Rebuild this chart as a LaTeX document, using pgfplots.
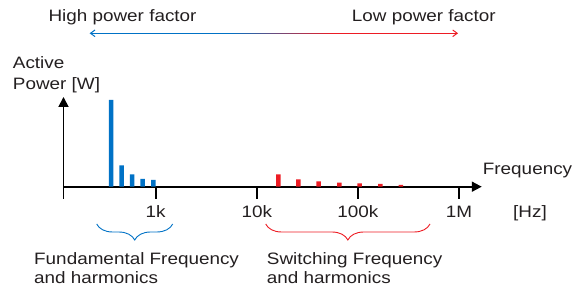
\documentclass[border=0pt]{standalone}
\usepackage{fontspec}
\setmainfont{Liberation Sans}[FakeStretch=1.145]
\usepackage{pgfplots}
\pgfplotsset{compat=1.18}
\usetikzlibrary{arrows.meta,decorations.pathreplacing}
\definecolor{bblue}{RGB}{0,114,198}
\definecolor{rred}{RGB}{237,28,36}
\definecolor{txt}{RGB}{35,31,32}
\begin{document}
\fontsize{16.5}{18.3}\selectfont
\begin{tikzpicture}[x=1pt,y=1pt]
\useasboundingbox (0,0) rectangle (581,291);
\begin{axis}[
  at={(63.5pt,104.3pt)}, anchor=south west,
  x=101.1pt, y=1pt,
  xmin=2.088, xmax=6.225, ymin=0, ymax=89.7,
  enlargelimits=false, clip=false,
  axis lines=left,
  axis line style={line width=1.8pt, -{Triangle[width=10pt,length=10pt]}},
  xtick={2.088,3,4,5,6}, xticklabels={,1k,10k,100k,1M},
  ytick=\empty,
  tick align=outside,
  major tick length=12pt,
  every tick/.style={black, line width=1.7pt},
  xticklabel style={anchor=base, text=txt, inner sep=0pt, yshift=-19pt},
]
\addplot[ybar, bar shift=0pt, bar width=4.5pt, fill=bblue, draw=none]
  coordinates {(2.558,86.7) (2.664,21.4) (2.766,12.4) (2.871,7.7) (2.976,6.7)};
\addplot[ybar, bar shift=0pt, bar width=4.5pt, fill=rred, draw=none]
  coordinates {(4.213,12.4) (4.410,7.4) (4.612,5.4) (4.816,4.0) (5.018,3.4) (5.222,2.7) (5.426,1.7)};
\end{axis}
\begin{scope}[every node/.style={inner sep=0pt, text=txt}]
\node[anchor=base west] at (48.3,269.3) {High power factor};
\node[anchor=base west] at (351.7,269.3) {Low power factor};
\node[anchor=base west] at (12.7,222.7) {Active};
\node[anchor=base west] at (12.7,201) {Power [W]};
\node[anchor=base west] at (482.7,116) {Frequency};
\node[anchor=base] at (530,73.7) {[Hz]};
\node[anchor=base west] at (34,26) {Fundamental Frequency};
\node[anchor=base west] at (34,7.7) {and harmonics};
\node[anchor=base west] at (266.7,26) {Switching Frequency};
\node[anchor=base west] at (266.7,7.7) {and harmonics};
\end{scope}
\draw[bblue, line width=1pt] (90.5,257.7) -- (230.5,257.7);
\foreach \i in {0,...,19}{
  \pgfmathsetmacro{\pct}{100-5*\i-2.5}
  \draw[line width=1pt, color=bblue!\pct!rred] (230+5.15*\i,257.7) -- (230+5.15*\i+5.6,257.7);
}
\draw[rred, line width=1pt] (332.5,257.7) -- (457,257.7);
\draw[bblue, line width=1pt] (95,261) -- (90.5,257.7) -- (95,254.4);
\draw[rred, line width=1pt] (452.7,261) -- (457.2,257.7) -- (452.7,254.4);
\draw[bblue, line width=0.9pt, decorate, decoration={brace, amplitude=16pt}] (172.7,67) -- (96.7,67);
\draw[rred, line width=0.9pt, decorate, decoration={brace, amplitude=16pt}] (430,67) -- (265.7,67);
\end{tikzpicture}
\end{document}
